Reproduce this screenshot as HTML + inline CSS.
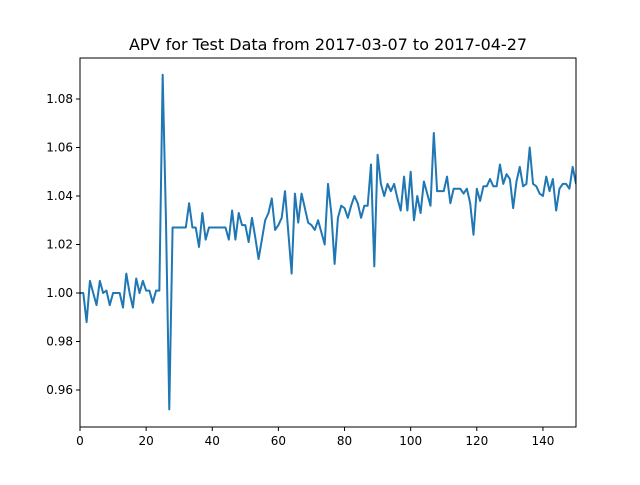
<!DOCTYPE html>
<html><head><meta charset="utf-8"><style>
body{margin:0;background:#fff;font-family:"Liberation Sans","DejaVu Sans",sans-serif;}
svg text{font-family:"DejaVu Sans","Liberation Sans",sans-serif;}
</style></head><body>
<svg id="chart" width="640" height="480">
<rect width="640" height="480" fill="#fff"/>
<text x="328" y="50" text-anchor="middle" font-size="16">APV for Test Data from 2017-03-07 to 2017-04-27</text>
<g id="axes"></g>
</svg>
<script>
const xTicks=[0,20,40,60,80,100,120,140];
const yTicks=[0.96,0.98,1.00,1.02,1.04,1.06,1.08];
const yTickLabels=["0.96","0.98","1.00","1.02","1.04","1.06","1.08"];
const apv=[1.000,1.000,0.988,1.005,1.000,0.995,1.005,1.000,1.001,0.995,1.000,1.000,1.000,0.994,1.008,1.000,0.994,1.006,1.000,1.005,1.001,1.001,0.996,1.001,1.001,1.090,1.030,0.952,1.027,1.027,1.027,1.027,1.027,1.037,1.027,1.027,1.019,1.033,1.022,1.027,1.027,1.027,1.027,1.027,1.027,1.022,1.034,1.022,1.033,1.028,1.028,1.021,1.031,1.023,1.014,1.022,1.030,1.033,1.039,1.026,1.028,1.031,1.042,1.025,1.008,1.041,1.029,1.041,1.035,1.029,1.028,1.026,1.030,1.025,1.020,1.045,1.033,1.012,1.031,1.036,1.035,1.031,1.036,1.040,1.037,1.031,1.036,1.036,1.053,1.011,1.057,1.045,1.040,1.045,1.042,1.045,1.039,1.034,1.048,1.034,1.050,1.030,1.040,1.033,1.046,1.041,1.036,1.066,1.042,1.042,1.042,1.048,1.037,1.043,1.043,1.043,1.041,1.043,1.037,1.024,1.043,1.038,1.044,1.044,1.047,1.044,1.044,1.053,1.045,1.049,1.047,1.035,1.046,1.052,1.044,1.045,1.060,1.045,1.044,1.041,1.040,1.048,1.042,1.047,1.034,1.043,1.045,1.045,1.043,1.052,1.045];
const L=80,R=576,T=58,B=427;
const xMin=0,xMax=150;
function xs(v){return L+(v-xMin)/(xMax-xMin)*(R-L);}
function ys(v){return 390-(v-0.96)/0.02*48.5;}
const NS="http://www.w3.org/2000/svg";
const g=document.getElementById('axes');
function mk(t,a){const e=document.createElementNS(NS,t);for(const k in a)e.setAttribute(k,a[k]);g.appendChild(e);return e;}
const clip=document.createElementNS(NS,'clipPath');clip.setAttribute('id','cp');
const cr=document.createElementNS(NS,'rect');cr.setAttribute('x',L);cr.setAttribute('y',T);cr.setAttribute('width',R-L);cr.setAttribute('height',B-T);clip.appendChild(cr);g.appendChild(clip);
let d='';apv.forEach((v,i)=>{d+=(i?'L':'M')+xs(i).toFixed(2)+','+ys(v).toFixed(2);});
const line=mk('path',{d:d,fill:'none',stroke:'#1f77b4','stroke-width':2,'clip-path':'url(#cp)','stroke-linejoin':'round'});


const frame=mk('rect',{x:L,y:T,width:R-L,height:B-T,fill:'none',stroke:'#000','stroke-width':1});


xTicks.forEach(v=>{const x=xs(v);mk('line',{x1:x,x2:x,y1:B,y2:B+4,stroke:'#000'});
const t=mk('text',{x:x,y:B+18,'text-anchor':'middle','font-size':12});t.textContent=v;

});
yTicks.forEach((v,i)=>{const y=ys(v);mk('line',{x1:L-4,x2:L,y1:y,y2:y,stroke:'#000'});
const t=mk('text',{x:L-7,y:y+4,'text-anchor':'end','font-size':12});t.textContent=yTickLabels[i];

});
</script>
</body></html>
